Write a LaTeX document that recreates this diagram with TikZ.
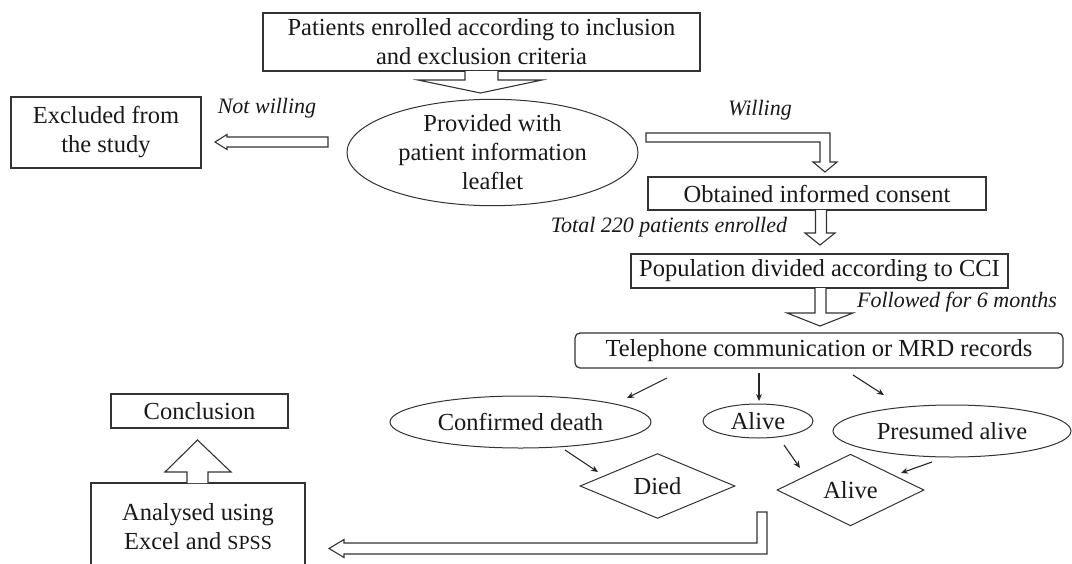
\documentclass[tikz,border=0pt]{standalone}
\usepackage{fontspec}
\setmainfont{Liberation Serif}
\usetikzlibrary{shapes.geometric,arrows.meta,calc}
\newcommand\txtsz{\fontsize{24.5}{29}\selectfont}
\newcommand\lblsz{\fontsize{22}{26}\selectfont\itshape}
\begin{document}
\begin{tikzpicture}[x=1pt,y=-1pt,
  every node/.style={inner sep=0pt, align=center, font=\txtsz, text=black!90},
  box/.style={draw=black!80, line width=1.2pt, rectangle},
  rbox/.style={draw=black!80, line width=1.2pt, rectangle, rounded corners=5pt},
  oval/.style={draw=black!80, line width=1.0pt, ellipse},
  dia/.style={draw=black!80, line width=1.0pt, diamond},
  lbl/.style={font=\lblsz},
  harrow/.style={draw=black!80, line width=1.1pt, fill=white, line join=miter},
  sarrow/.style={draw=black!85, line width=1.1pt, -{Stealth[length=7pt,width=6pt]}}]
\clip (0,0) rectangle (1072,563);
\fill[white] (0,0) rectangle (1072,563);

% nodes
\node[box, minimum width=437pt, minimum height=58pt] (top) at (481.5,42)
  {Patients enrolled according to inclusion\\and exclusion criteria};
\node[box, minimum width=190pt, minimum height=71pt] (excl) at (106,132.5)
  {Excluded from\\the study};
\node[oval, minimum width=291pt, minimum height=105pt] (prov) at (492.5,152.5)
  {Provided with\\patient information\\leaflet};
\node[box, minimum width=338pt, minimum height=33pt] (cons) at (817,193.5)
  {Obtained informed consent};
\node[box, minimum width=377pt, minimum height=34pt] (pop) at (819.5,271)
  {Population divided according to CCI};
\node[rbox, minimum width=488pt, minimum height=35pt] (tel) at (819,350.5)
  {Telephone communication or MRD records};
\node[oval, minimum width=261pt, minimum height=52pt] (conf) at (520.5,422)
  {Confirmed death};
\node[oval, minimum width=110pt, minimum height=34pt] (alv) at (758,421)
  {Alive};
\node[oval, minimum width=238pt, minimum height=52pt] (pres) at (952,431)
  {Presumed alive};
\node[dia, minimum width=155pt, minimum height=54pt] (died) at (657.5,486)
  {Died};
\node[dia, minimum width=147pt, minimum height=54pt] (alv2) at (850.5,490)
  {Alive};
\node[box, minimum width=177pt, minimum height=34pt] (concl) at (199.5,411)
  {Conclusion};
\node[box, minimum width=214pt, minimum height=88pt] (anal) at (198,527)
  {Analysed using\\Excel and {\fontsize{20}{29}\selectfont SPSS}};

% labels
\node[lbl] (lnw) at (267,108) {Not willing};
\node[lbl] (lw) at (760,110) {Willing};
\node[lbl] (ltot) at (669,227) {Total 220 patients enrolled};
\node[lbl] (lfol) at (957,302) {Followed for 6 months};

% hollow block arrows
\draw[harrow] (465,71) -- (465,80) -- (418,80) -- (480.5,93) -- (542,80) -- (498,80) -- (498,71);
\draw[harrow] (328,137) -- (227,137) -- (227,134.5) -- (215,142) -- (227,149.5) -- (227,147) -- (328,147) -- cycle;
\draw[harrow] (646,133) -- (830,133) -- (830,162) -- (837,162) -- (825,172) -- (813,162) -- (820,162) -- (820,142) -- (646,142) -- cycle;
\draw[harrow] (815.5,210) -- (815.5,233) -- (805,233) -- (820,245) -- (835,233) -- (826.5,233) -- (826.5,210);
\draw[harrow] (815,288) -- (815,313) -- (787,313) -- (820,326) -- (853,313) -- (826,313) -- (826,288);
\draw[harrow] (757,512) -- (767,512) -- (767,554) -- (344,554) -- (344,557.5) -- (329,548.5) -- (344,539.5) -- (344,543) -- (757,543) -- cycle;
\draw[harrow] (187,483) -- (187,472) -- (165,472) -- (197.5,440) -- (231,472) -- (208,472) -- (208,483);

% small arrows
\coordinate (s1) at (667,378); \coordinate (t1) at (627,398);
\coordinate (s2) at (759,373); \coordinate (t2) at (759,401);
\coordinate (s3) at (853,375); \coordinate (t3) at (884,395);
\coordinate (s4) at (565,450); \coordinate (t4) at (598,472);
\coordinate (s5) at (784,445); \coordinate (t5) at (800,468);
\coordinate (s6) at (932,462); \coordinate (t6) at (901,473);
\draw[sarrow] (s1) -- (t1);
\draw[sarrow] (s2) -- (t2);
\draw[sarrow] (s3) -- (t3);
\draw[sarrow] (s4) -- (t4);
\draw[sarrow] (s5) -- (t5);
\draw[sarrow] (s6) -- (t6);
\end{tikzpicture}
\end{document}
